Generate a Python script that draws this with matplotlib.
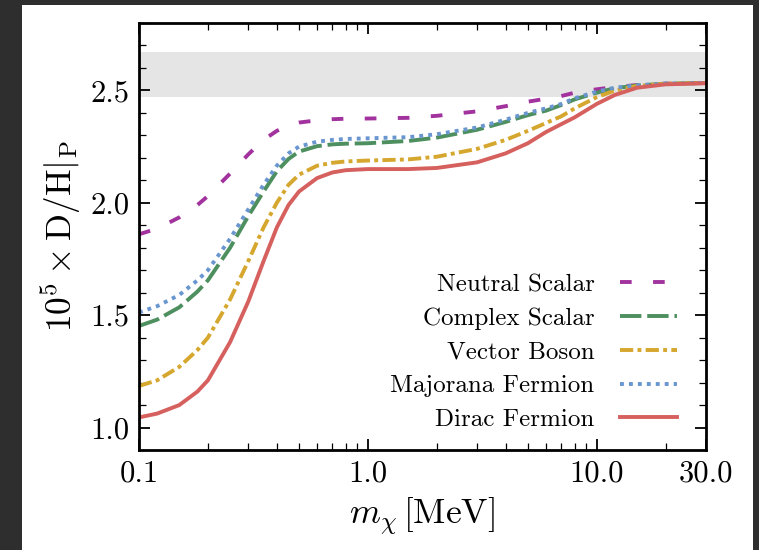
import matplotlib
matplotlib.use("Agg")
import matplotlib.pyplot as plt
from matplotlib.patches import Rectangle
from matplotlib.ticker import FixedLocator, NullFormatter, MultipleLocator

plt.rcParams['font.family'] = 'serif'
plt.rcParams['font.serif'] = ['cmr10', 'DejaVu Serif']
plt.rcParams['mathtext.fontset'] = 'cm'
plt.rcParams['axes.formatter.use_mathtext'] = True

# dark matter mass grid [MeV]
mass = [0.1, 0.12, 0.15, 0.18, 0.2, 0.25, 0.3, 0.35, 0.4, 0.45, 0.5, 0.6, 0.7, 0.8,
        1.0, 1.5, 2, 3, 4, 5, 6, 7, 8, 10, 12, 15, 20, 30]

neutral_scalar = [1.86, 1.885, 1.935, 1.99, 2.03, 2.13, 2.215, 2.28, 2.32, 2.345, 2.357, 2.367, 2.372, 2.374,
                  2.375, 2.378, 2.387, 2.407, 2.43, 2.45, 2.463, 2.475, 2.49, 2.505, 2.515, 2.524, 2.53, 2.533]
complex_scalar = [1.452, 1.48, 1.535, 1.605, 1.655, 1.8, 1.94, 2.05, 2.14, 2.195, 2.228, 2.252, 2.26, 2.263,
                  2.265, 2.275, 2.29, 2.325, 2.36, 2.39, 2.41, 2.435, 2.46, 2.49, 2.51, 2.522, 2.53, 2.533]
vector_boson = [1.185, 1.21, 1.27, 1.345, 1.40, 1.57, 1.74, 1.89, 2.0, 2.08, 2.125, 2.165, 2.178, 2.184,
                2.188, 2.193, 2.205, 2.24, 2.28, 2.32, 2.355, 2.385, 2.42, 2.47, 2.5, 2.52, 2.53, 2.533]
majorana_fermion = [1.512, 1.54, 1.59, 1.655, 1.70, 1.84, 1.97, 2.08, 2.165, 2.22, 2.25, 2.272, 2.28, 2.284,
                    2.287, 2.292, 2.305, 2.335, 2.37, 2.4, 2.42, 2.44, 2.465, 2.495, 2.512, 2.523, 2.53, 2.533]
dirac_fermion = [1.045, 1.062, 1.10, 1.16, 1.21, 1.38, 1.56, 1.74, 1.89, 1.99, 2.05, 2.11, 2.135, 2.145,
                 2.15, 2.15, 2.155, 2.18, 2.22, 2.265, 2.315, 2.35, 2.38, 2.44, 2.48, 2.512, 2.527, 2.532]

# observed D/H band
band_lo, band_hi = 2.47, 2.67

xticks = [0.1, 1.0, 10.0, 30.0]
xticklabels = ['0.1', '1.0', '10.0', '30.0']

fig = plt.figure(figsize=(7.59, 5.5), dpi=100, facecolor='#2e2e2e')
fig.patches.append(Rectangle((22 / 759, 0), (753 - 22) / 759, 545 / 550,
                             transform=fig.transFigure, facecolor='white',
                             edgecolor='none', zorder=-5))
ax = fig.add_axes([139 / 759, 1 - 450 / 550, (706 - 139) / 759, (450 - 23) / 550])
ax.set_zorder(2)

ax.axhspan(band_lo, band_hi, color='#e5e5e5', lw=0, zorder=0)

lw = 2.8
ax.plot(mass, neutral_scalar, color='#a2339e', lw=lw, dashes=(3.0, 5.5), label='Neutral Scalar')
ax.plot(mass, complex_scalar, color='#4d8f5e', lw=lw, dashes=(5.5, 1.5), label='Complex Scalar')
ax.plot(mass, vector_boson, color='#d6a72e', lw=lw, dashes=(3.4, 1.1, 1.0, 1.1), label='Vector Boson')
ax.plot(mass, majorana_fermion, color='#6a96d0', lw=lw, dashes=(1.0, 1.3), label='Majorana Fermion')
ax.plot(mass, dirac_fermion, color='#d6605e', lw=lw, label='Dirac Fermion')

ax.set_xscale('log')
ax.set_xlim(0.1, 30)
ax.set_ylim(0.9, 2.8)

ax.xaxis.set_major_locator(FixedLocator(xticks))
ax.set_xticklabels(xticklabels)
minors = [k * 10 ** e for e in (-1, 0, 1) for k in range(2, 10)]
ax.xaxis.set_minor_locator(FixedLocator([v for v in minors if v < 30]))
ax.xaxis.set_minor_formatter(NullFormatter())
ax.yaxis.set_minor_locator(MultipleLocator(0.1))
ax.set_yticks([1.0, 1.5, 2.0, 2.5])
ax.set_yticklabels(['1.0', '1.5', '2.0', '2.5'])

ax.tick_params(which='both', direction='in', top=True, right=True, labelsize=22)
ax.tick_params(which='major', length=8, width=1.3, pad=7)
ax.tick_params(which='minor', length=5, width=0.9)
for s in ax.spines.values():
    s.set_linewidth(2.0)

ax.set_xlabel(r'$m_\chi\,[\mathrm{MeV}]$', fontsize=25.5, labelpad=6)
ax.set_ylabel(r'$10^5 \times \mathrm{D/H}|_\mathrm{P}$', fontsize=25.5, labelpad=5)

ax.legend(loc='lower right', bbox_to_anchor=(1 - 4 / 567, -6 / 427),
          frameon=False, markerfirst=False, fontsize=18,
          handlelength=2.3, handletextpad=1.0, labelspacing=0.45,
          borderpad=0.3, borderaxespad=0.7)

fig.savefig('out.png', dpi=100, facecolor=fig.get_facecolor())
